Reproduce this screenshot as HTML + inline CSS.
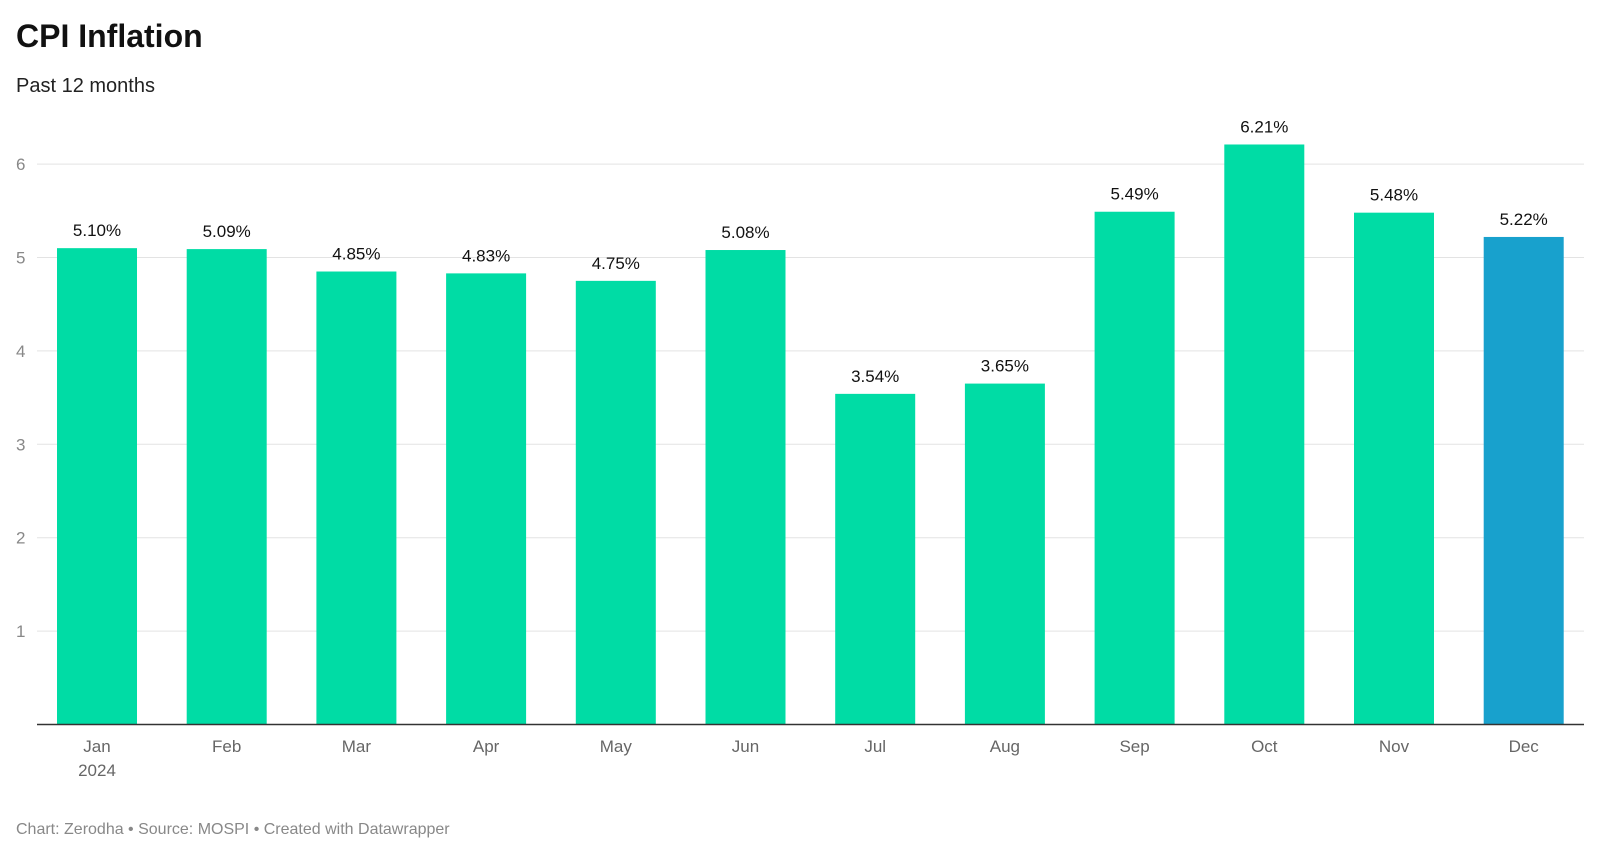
<!DOCTYPE html>
<html><head><meta charset="utf-8"><style>
body{margin:0;background:#fff;font-family:"Liberation Sans",Arial,sans-serif;}
svg{display:block}
</style></head><body>
<svg width="1600" height="854" xmlns="http://www.w3.org/2000/svg">
<text x="16" y="47" font-size="32" font-weight="bold" fill="#111">CPI Inflation</text>
<text x="16" y="92" font-size="20" fill="#222">Past 12 months</text>
<g id="grid"></g><g id="bars"></g><g id="labels"></g>
<text x="16" y="834" font-size="16" fill="#888">Chart: Zerodha • Source: MOSPI • Created with Datawrapper</text>
</svg>
<script>
const months=["Jan","Feb","Mar","Apr","May","Jun","Jul","Aug","Sep","Oct","Nov","Dec"];
const values=[5.10,5.09,4.85,4.83,4.75,5.08,3.54,3.65,5.49,6.21,5.48,5.22];
const valueLabels=["5.10%","5.09%","4.85%","4.83%","4.75%","5.08%","3.54%","3.65%","5.49%","6.21%","5.48%","5.22%"];
const yTicks=[1,2,3,4,5,6];
const NS="http://www.w3.org/2000/svg";
const base=724.5,unit=93.4,x0=57,step=129.7,bw=80;
const y=v=>base-v*unit, x=i=>x0+i*step;
function mk(t,a,p){const e=document.createElementNS(NS,t);for(const k in a)e.setAttribute(k,a[k]);p.appendChild(e);return e;}
const g=document.getElementById('grid'),b=document.getElementById('bars'),l=document.getElementById('labels');
yTicks.forEach(t=>{
 const ln=mk('line',{x1:37,x2:1584,y1:y(t),y2:y(t),stroke:'#e3e3e3','stroke-width':1},g);
 
 
 const tx=mk('text',{x:16,y:y(t)+6,'font-size':17,fill:'#888'},g);tx.textContent=t;
 
 
});
values.forEach((v,i)=>{
 const r=mk('rect',{x:x(i),y:y(v),width:bw,height:base-y(v),fill:i==11?'#18a1cd':'#00dca5'},b);
 
 
 const vt=mk('text',{x:x(i)+bw/2,y:y(v)-12,'font-size':17,fill:'#111','text-anchor':'middle'},l);vt.textContent=valueLabels[i];
 
 
 const mt=mk('text',{x:x(i)+bw/2,y:752,'font-size':17,fill:'#666','text-anchor':'middle'},l);mt.textContent=months[i];
 
 
});
const yr=mk('text',{x:x(0)+bw/2,y:776,'font-size':17,fill:'#666','text-anchor':'middle'},l);yr.textContent='2024';


const ax=mk('line',{x1:37,x2:1584,y1:base,y2:base,stroke:'#333','stroke-width':1.5},l);


</script>
</body></html>
